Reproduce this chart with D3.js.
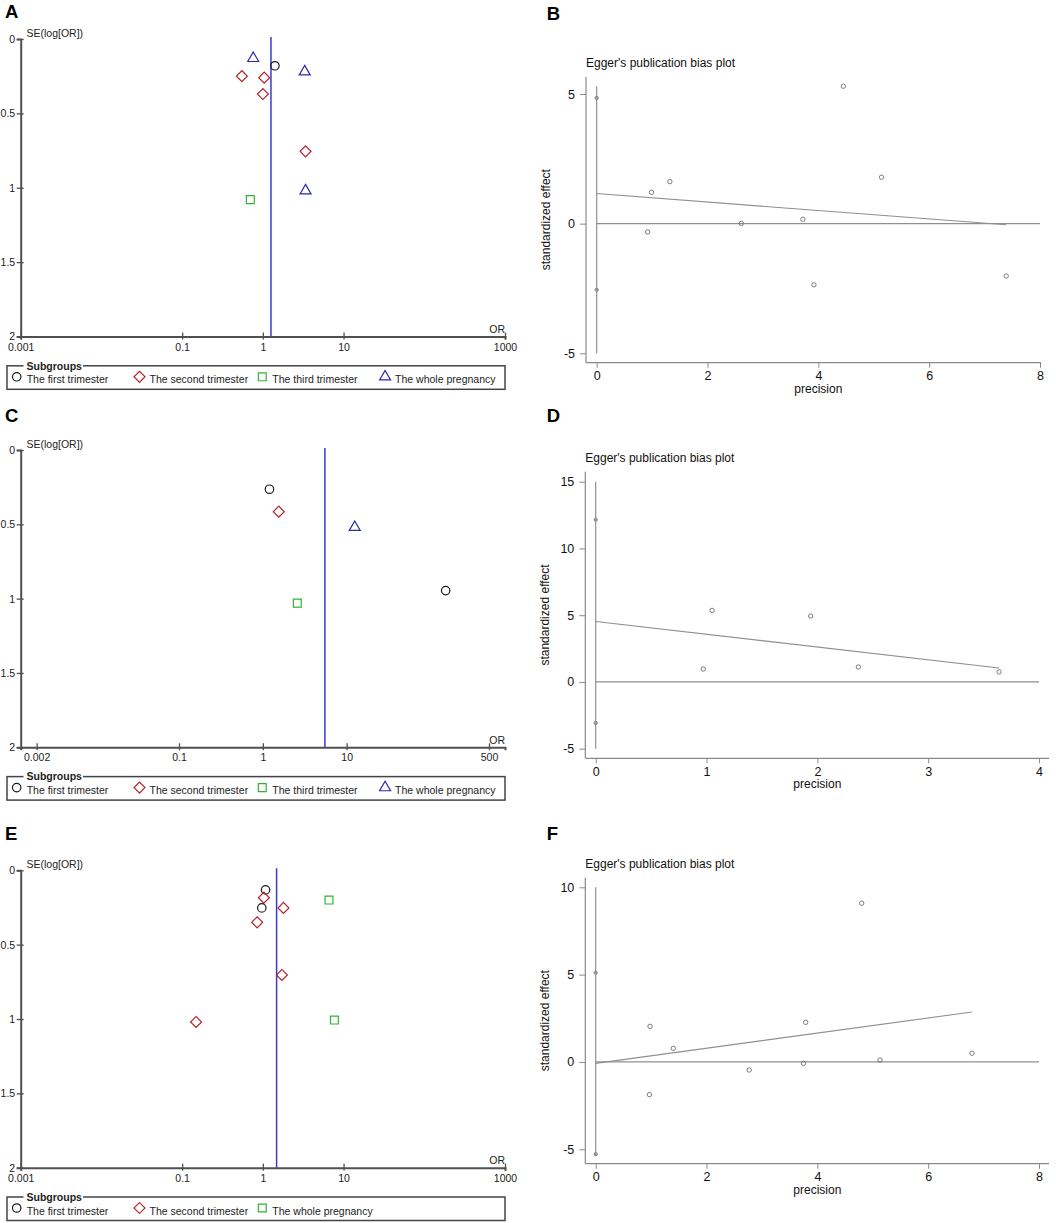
<!DOCTYPE html>
<html>
<head>
<meta charset="utf-8">
<script src="https://cdn.jsdelivr.net/npm/d3@7"></script>
<style>
body { margin: 0; background: #fff; }
svg { display: block; font-family: Arial, "Liberation Sans", Helvetica, sans-serif; }
</style>
</head>
<body>
<svg id="fig" width="1056" height="1223"></svg>
<script>
// ---------- funnel plot data (OR, SE(log OR), subgroup index) ----------
var groupsAC = ["The first trimester", "The second trimester", "The third trimester", "The whole pregnancy"];
var groupsE = ["The first trimester", "The second trimester", "The whole pregnancy"];

var aOR = [0.76, 1.41, 3.3, 0.55, 1.04, 1.0, 3.38, 3.38, 0.70];
var aSE = [0.13, 0.18, 0.22, 0.25, 0.26, 0.37, 0.755, 1.02, 1.08];
var aGroup = [3, 0, 3, 1, 1, 1, 1, 3, 2];
var aPooled = 1.26;
var aTicks = [0.001, 0.1, 1, 10, 1000];

var cOR = [1.2, 1.55, 12.5, 152, 2.58];
var cSE = [0.264, 0.415, 0.52, 0.946, 1.03];
var cGroup = [0, 1, 3, 0, 2];
var cPooled = 5.5;
var cTicks = [0.002, 0.1, 1, 10, 500];

var eOR = [1.08, 1.03, 0.97, 1.80, 0.85, 6.6, 1.72, 0.149, 7.7];
var eSE = [0.132, 0.184, 0.253, 0.253, 0.35, 0.2, 0.704, 1.02, 1.007];
var eGroup = [0, 1, 0, 1, 1, 2, 1, 1, 2];
var ePooled = 1.48;
var eTicks = [0.001, 0.1, 1, 10, 1000];

var seTicks = [0, 0.5, 1, 1.5, 2];

// ---------- Egger plot data (precision, standardized effect) ----------
var bPrec = [0, 0, 0.92, 0.99, 1.32, 2.61, 3.72, 3.92, 4.45, 5.14, 7.39];
var bEffect = [4.85, -2.55, -0.32, 1.21, 1.62, 0.01, 0.17, -2.36, 5.30, 1.79, -2.02];
var bFit = [1.16, -0.163];      // intercept, slope
var bCI = [-5, 5.3];
var bXTicks = [0, 2, 4, 6, 8];
var bYTicks = [-5, 0, 5];

var dPrec = [0, 0, 0.97, 1.05, 1.94, 2.37, 3.64];
var dEffect = [12.16, -3.07, 0.97, 5.36, 4.94, 1.12, 0.75];
var dFit = [4.53, -0.956];
var dCI = [-5, 15];
var dXTicks = [0, 1, 2, 3, 4];
var dYTicks = [-5, 0, 5, 10, 15];

var fPrec = [0, 0, 0.98, 0.97, 1.40, 2.77, 3.75, 3.79, 4.80, 5.13, 6.79];
var fEffect = [5.11, -5.28, 2.04, -1.87, 0.78, -0.46, -0.08, 2.27, 9.09, 0.11, 0.5];
var fFit = [-0.08, 0.433];
var fCI = [-5.3, 10];
var fXTicks = [0, 2, 4, 6, 8];
var fYTicks = [-5, 0, 5, 10];

var svg = d3.select("#fig");

/*****************  marker styles **********************/
var shapeStyles = [
    { type: d3.symbolCircle, size: 56, rot: 0, color: "#1a1a1a" },
    { type: d3.symbolSquare, size: 60, rot: 45, color: "#b5252b" },
    { type: d3.symbolSquare, size: 62, rot: 0, color: "#33b233" },
    { type: d3.symbolTriangle, size: 52, rot: 0, color: "#2b2ba8" }
];
// E legend has no third trimester: its 3rd group uses the square
var shapeIndexE = [0, 1, 2];

function marker(g, idx, x, y) {
    var s = shapeStyles[idx];
    g.append("path")
        .attr("d", d3.symbol().type(s.type).size(s.size)())
        .attr("transform", "translate(" + x + "," + y + ") rotate(" + s.rot + ")")
        .attr("fill", "none")
        .attr("stroke", s.color)
        .attr("stroke-width", 1.2);
}

function panelLabel(txt, x, y) {
    svg.append("text")
        .attr("x", x).attr("y", y)
        .attr("font-size", "18.5px")
        .attr("font-weight", "bold")
        .attr("fill", "#000")
        .text(txt);
}

/*****************  funnel plot **********************/
function drawFunnel(cfg) {
    var g = svg.append("g");
    var axisColor = "#505050";

    var x = d3.scaleLog().domain(cfg.xDomain).range([20.7, 505]);
    var y = d3.scaleLinear().domain([0, 2]).range([cfg.top, cfg.bottom]);

    // pooled estimate line
    g.append("line")
        .attr("x1", x(cfg.pooled)).attr("x2", x(cfg.pooled))
        .attr("y1", y(0) - 2).attr("y2", y(2))
        .attr("stroke", "#3a3ad0")
        .attr("stroke-width", 1.5);

    // y axis
    var ya = g.append("g")
        .attr("transform", "translate(20.7,0)")
        .call(d3.axisLeft(y).tickValues(seTicks).tickFormat(String).tickSize(4).tickPadding(1.5));
    ya.select(".domain").attr("stroke", axisColor).attr("stroke-width", 2);
    ya.selectAll(".tick line").attr("x1", 3).attr("stroke", axisColor).attr("stroke-width", 1.3);
    ya.selectAll(".tick text").attr("font-size", "10.5px").attr("fill", "#222")
        .attr("font-family", "Arial, 'Liberation Sans', sans-serif");

    // x axis
    var xa = g.append("g")
        .attr("transform", "translate(0," + y(2) + ")")
        .call(d3.axisBottom(x).tickValues(cfg.ticks).tickFormat(String).tickSize(3).tickPadding(3.7));
    xa.select(".domain").attr("stroke", axisColor).attr("stroke-width", 2);
    xa.selectAll(".tick line").attr("y1", -4).attr("stroke", axisColor).attr("stroke-width", 1.3);
    xa.selectAll(".tick text").attr("font-size", "10.5px").attr("fill", "#222")
        .attr("font-family", "Arial, 'Liberation Sans', sans-serif");

    g.append("text")
        .attr("x", 26.5).attr("y", y(0) - 2.5)
        .attr("font-size", "10.5px").attr("fill", "#222")
        .text("SE(log[OR])");
    g.append("text")
        .attr("x", 505).attr("y", y(2) - 3.5)
        .attr("text-anchor", "end")
        .attr("font-size", "10.5px").attr("fill", "#222")
        .text("OR");

    // studies
    cfg.or.forEach(function (d, i) {
        marker(g, cfg.shapeOf[cfg.group[i]], x(d), y(cfg.se[i]));
    });

    // legend
    var top = y(2) + 29.3;
    var lg = g.append("g");
    lg.append("rect")
        .attr("x", 7).attr("y", top)
        .attr("width", 498).attr("height", 23.5)
        .attr("fill", "none")
        .attr("stroke", "#444")
        .attr("stroke-width", 1.5);
    lg.append("rect")
        .attr("x", 23.5).attr("y", top - 3)
        .attr("width", 59.5).attr("height", 6)
        .attr("fill", "#fff");
    lg.append("text")
        .attr("x", 26.5).attr("y", top + 3.8)
        .attr("font-size", "10.5px").attr("font-weight", "bold").attr("fill", "#222")
        .text("Subgroups");
    cfg.groups.forEach(function (name, i) {
        var lx = 16.7 + i * 122.8;
        marker(lg, cfg.shapeOf[i], lx, top + 11);
        lg.append("text")
            .attr("x", lx + 10).attr("y", top + 17.5)
            .attr("font-size", "10.5px").attr("fill", "#222")
            .text(name);
    });
}

/*****************  Egger plot **********************/
function drawEgger(cfg) {
    var g = svg.append("g");
    var axisColor = "#8a8a8a";
    var lineColor = "#8f8f8f";

    var x = d3.scaleLinear().domain([0, cfg.xTicks[cfg.xTicks.length - 1]]).range(cfg.xRange);
    var y = d3.scaleLinear().domain(cfg.yDomain).range(cfg.yRange);

    // frame
    g.append("line")
        .attr("x1", cfg.left).attr("x2", cfg.left)
        .attr("y1", cfg.top).attr("y2", cfg.bottom)
        .attr("stroke", axisColor).attr("stroke-width", 1.2);
    g.append("line")
        .attr("x1", cfg.left).attr("x2", cfg.right)
        .attr("y1", cfg.bottom).attr("y2", cfg.bottom)
        .attr("stroke", axisColor).attr("stroke-width", 1.2);

    var ya = g.append("g")
        .attr("transform", "translate(" + cfg.left + ",0)")
        .call(d3.axisLeft(y).tickValues(cfg.yTicks).tickFormat(String).tickSize(6).tickPadding(5));
    ya.select(".domain").remove();
    ya.selectAll(".tick line").attr("stroke", axisColor);
    ya.selectAll(".tick text").attr("font-size", "12.5px").attr("fill", "#111")
        .attr("font-family", "Arial, 'Liberation Sans', sans-serif");

    var xa = g.append("g")
        .attr("transform", "translate(0," + cfg.bottom + ")")
        .call(d3.axisBottom(x).tickValues(cfg.xTicks).tickFormat(String).tickSize(5).tickPadding(3.5));
    xa.select(".domain").remove();
    xa.selectAll(".tick line").attr("stroke", axisColor);
    xa.selectAll(".tick text").attr("font-size", "12.5px").attr("fill", "#111")
        .attr("font-family", "Arial, 'Liberation Sans', sans-serif");

    // reference lines
    g.append("line")
        .attr("x1", x(0)).attr("x2", x(0))
        .attr("y1", y(cfg.ci[1])).attr("y2", y(cfg.ci[0]))
        .attr("stroke", lineColor).attr("stroke-width", 1.2);
    g.append("line")
        .attr("x1", x(0))
        .attr("x2", x(x.domain()[1]))
        .attr("y1", y(0)).attr("y2", y(0))
        .attr("stroke", lineColor).attr("stroke-width", 1.2);

    var maxP = d3.max(cfg.prec);
    var fit = d3.line()
        .x(function (d) { return x(d); })
        .y(function (d) { return y(cfg.fit[0] + cfg.fit[1] * d); });
    g.append("path")
        .attr("d", fit([0, maxP]))
        .attr("fill", "none")
        .attr("stroke", lineColor).attr("stroke-width", 1.1);

    cfg.prec.forEach(function (p, i) {
        g.append("circle")
            .attr("cx", x(p)).attr("cy", y(cfg.effect[i]))
            .attr("r", p === 0 ? 1.7 : 2.2)
            .attr("fill", p === 0 ? "#9a9a9a" : "none")
            .attr("stroke", p === 0 ? "#8a8a8a" : "#6e6e6e")
            .attr("stroke-width", 0.9);
    });

    g.append("text")
        .attr("x", cfg.left).attr("y", cfg.top - 10)
        .attr("font-size", "12px").attr("fill", "#111")
        .text("Egger's publication bias plot");
    g.append("text")
        .attr("x", (cfg.xRange[0] + cfg.xRange[1]) / 2).attr("y", cfg.bottom + 30)
        .attr("text-anchor", "middle")
        .attr("font-size", "12px").attr("fill", "#111")
        .text("precision");
    g.append("text")
        .attr("transform", "translate(" + (cfg.left - 36) + "," + ((cfg.top + cfg.bottom) / 2) + ") rotate(-90)")
        .attr("text-anchor", "middle")
        .attr("font-size", "12px").attr("fill", "#111")
        .text("standardized effect");
}

/*****************  panels **********************/
panelLabel("A", 5, 18.3);
drawFunnel({ or: aOR, se: aSE, group: aGroup, pooled: aPooled, ticks: aTicks,
    xDomain: [0.001, 1000], top: 39, bottom: 336.5, groups: groupsAC, shapeOf: [0, 1, 2, 3] });

panelLabel("B", 546.7, 20);
drawEgger({ prec: bPrec, effect: bEffect, fit: bFit, ci: bCI, xTicks: bXTicks, yTicks: bYTicks,
    yDomain: [-5, 5], xRange: [596.7, 1040], yRange: [353.3, 94],
    left: 586, right: 1041, top: 76.7, bottom: 362.7 });

panelLabel("C", 5, 421.7);
drawFunnel({ or: cOR, se: cSE, group: cGroup, pooled: cPooled, ticks: cTicks,
    xDomain: [0.00129, 776], top: 450, bottom: 747.3, groups: groupsAC, shapeOf: [0, 1, 2, 3] });

panelLabel("D", 546.7, 421.7);
drawEgger({ prec: dPrec, effect: dEffect, fit: dFit, ci: dCI, xTicks: dXTicks, yTicks: dYTicks,
    yDomain: [-5, 15], xRange: [595.7, 1039], yRange: [748.7, 481.7],
    left: 585.3, right: 1049, top: 471.7, bottom: 758.3 });

panelLabel("E", 5, 840);
drawFunnel({ or: eOR, se: eSE, group: eGroup, pooled: ePooled, ticks: eTicks,
    xDomain: [0.001, 1000], top: 870.3, bottom: 1167.7, groups: groupsE, shapeOf: shapeIndexE });

panelLabel("F", 546.7, 840);
drawEgger({ prec: fPrec, effect: fEffect, fit: fFit, ci: fCI, xTicks: fXTicks, yTicks: fYTicks,
    yDomain: [-5, 10], xRange: [595.7, 1039], yRange: [1149.3, 887.3],
    left: 585.3, right: 1049, top: 877.7, bottom: 1163.7 });
</script>
</body>
</html>
